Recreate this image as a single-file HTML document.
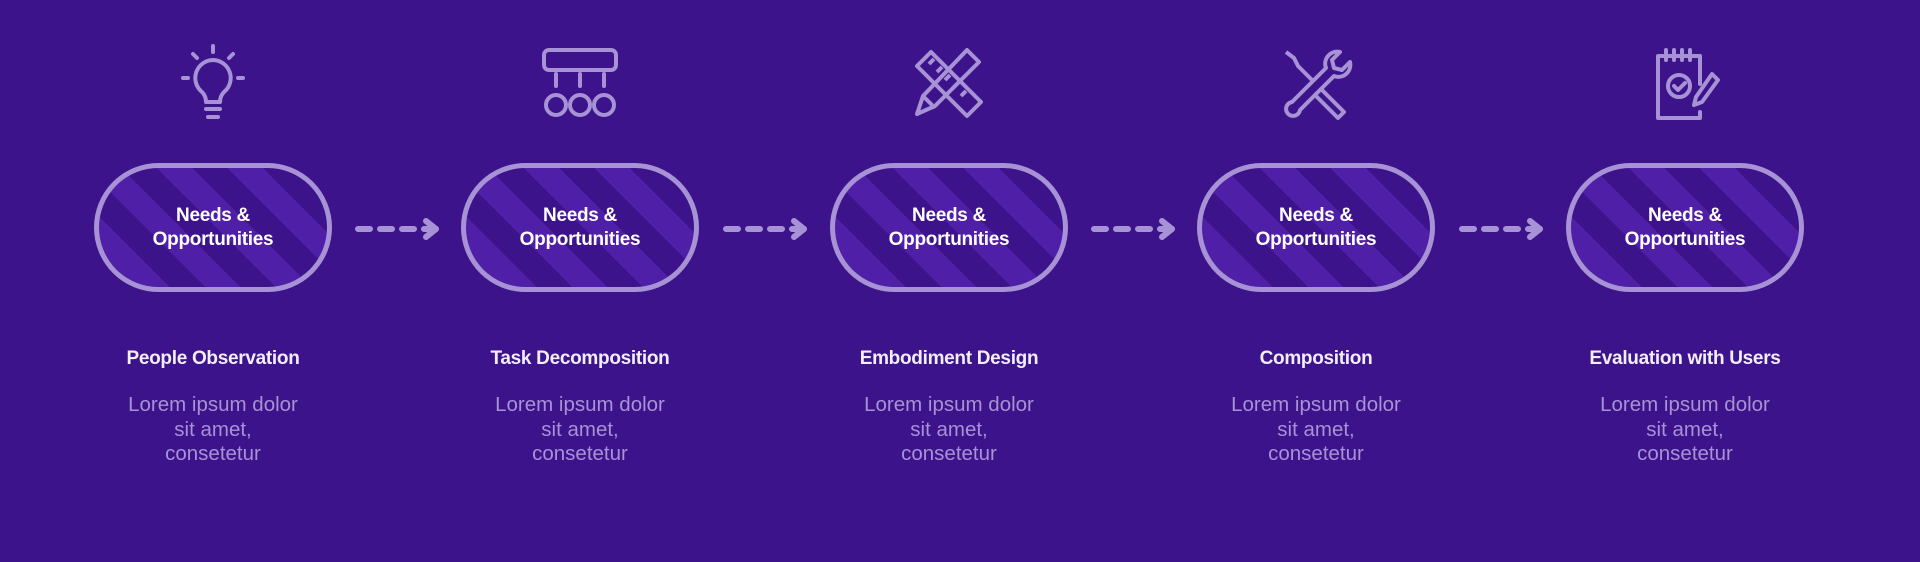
<!DOCTYPE html>
<html><head><meta charset="utf-8"><style>
body{margin:0;width:1920px;height:562px;background:#3c138a;font-family:"Liberation Sans",Arial,sans-serif;position:relative;overflow:hidden}
.pill{position:absolute;top:163px;width:238px;height:129px;box-sizing:border-box;border:5px solid #a892d6;border-radius:65px;
background:repeating-linear-gradient(45deg,#3c138a 0 25px,#4f20a7 25px 50px);display:flex;align-items:center;justify-content:center;text-align:center;color:#fff;font-weight:bold;font-size:19px;line-height:24px;letter-spacing:-0.3px}
.t{position:absolute;top:348px;width:300px;text-align:center;color:#f3eefc;font-weight:bold;font-size:19px;letter-spacing:-0.3px}
.d{position:absolute;top:393px;width:300px;text-align:center;color:#a892d6;font-size:20.5px;line-height:24.5px}
.arr{position:absolute;top:218px}
.ic{position:absolute;top:44px}
</style></head><body>

<svg class="ic" style="left:173px" width="80" height="82" viewBox="0 0 80 82" fill="none" stroke="#a892d6" stroke-width="4" stroke-linecap="round" stroke-linejoin="round">
<path d="M40 2v6M20 10l4 4M60 10l-4 4M10 34h5M65 34h5"/>
<path d="M40 16a18 18 0 0 0-11 32c3 3 4 6 4 10h14c0-4 1-7 4-10a18 18 0 0 0-11-32z"/>
<path d="M33 65h14M35 73h10"/></svg>
<div class="pill" style="left:94px">Needs &amp;<br>Opportunities</div>
<div class="t" style="left:63px">People Observation</div>
<div class="d" style="left:63px">Lorem ipsum dolor<br>sit amet,<br>consetetur</div>

<svg class="ic" style="left:540px" width="80" height="82" viewBox="0 0 80 82" fill="none" stroke="#a892d6" stroke-width="4" stroke-linecap="round">
<rect x="4" y="6" width="72" height="20" rx="5"/>
<path d="M16 30v12M40 30v12M64 30v12"/>
<circle cx="16" cy="61" r="10"/><circle cx="40" cy="61" r="10"/><circle cx="64" cy="61" r="10"/></svg>
<div class="pill" style="left:461px">Needs &amp;<br>Opportunities</div>
<div class="t" style="left:430px">Task Decomposition</div>
<div class="d" style="left:430px">Lorem ipsum dolor<br>sit amet,<br>consetetur</div>

<svg class="ic" style="left:909px" width="80" height="82" viewBox="0 0 80 82" fill="none" stroke="#a892d6" stroke-width="4" stroke-linejoin="round">
<path d="M8 22l14-14 50 50-14 14z"/><path d="M20 20l5-5M28 28l5-5M36 36l5-5M44 44l5-5M52 52l5-5"/>
<path d="M58 6l12 12-44 44-18 8 6-18z"/><path d="M14 52l12 12"/></svg>
<div class="pill" style="left:830px">Needs &amp;<br>Opportunities</div>
<div class="t" style="left:799px">Embodiment Design</div>
<div class="d" style="left:799px">Lorem ipsum dolor<br>sit amet,<br>consetetur</div>

<svg class="ic" style="left:1278px" width="80" height="82" viewBox="0 0 80 82" fill="none" stroke="#a892d6" stroke-width="4" stroke-linejoin="round">
<path d="M8 8l8 6 4 8 16 16"/><path d="M44 46l22 22-6 6-22-22"/>
<path d="M62 8a12 12 0 0 0-14 16L14 58a7 7 0 1 0 8 8l34-34a12 12 0 0 0 16-14l-8 8-8-2-2-8z"/></svg>
<div class="pill" style="left:1197px">Needs &amp;<br>Opportunities</div>
<div class="t" style="left:1166px">Composition</div>
<div class="d" style="left:1166px">Lorem ipsum dolor<br>sit amet,<br>consetetur</div>

<svg class="ic" style="left:1648px" width="80" height="82" viewBox="0 0 80 82" fill="none" stroke="#a892d6" stroke-width="4" stroke-linejoin="round" stroke-linecap="round">
<path d="M52 40V12H10v62h42v-6"/><path d="M18 6v10M26 6v10M34 6v10M42 6v10"/>
<circle cx="31" cy="42" r="11"/><path d="M26 42l4 4 7-7"/>
<path d="M64 30l6 6-16 22-8 3 2-8z"/></svg>
<div class="pill" style="left:1566px">Needs &amp;<br>Opportunities</div>
<div class="t" style="left:1535px">Evaluation with Users</div>
<div class="d" style="left:1535px">Lorem ipsum dolor<br>sit amet,<br>consetetur</div>

<svg class="arr" style="left:354px" width="90" height="22" viewBox="0 0 90 22" fill="none" stroke="#a892d6" stroke-width="6" stroke-linecap="round" stroke-linejoin="round">
<path d="M4 11h12M26 11h12M48 11h12M70 11h12"/><path d="M72 3l10 8-10 8"/></svg>
<svg class="arr" style="left:722px" width="90" height="22" viewBox="0 0 90 22" fill="none" stroke="#a892d6" stroke-width="6" stroke-linecap="round" stroke-linejoin="round">
<path d="M4 11h12M26 11h12M48 11h12M70 11h12"/><path d="M72 3l10 8-10 8"/></svg>
<svg class="arr" style="left:1090px" width="90" height="22" viewBox="0 0 90 22" fill="none" stroke="#a892d6" stroke-width="6" stroke-linecap="round" stroke-linejoin="round">
<path d="M4 11h12M26 11h12M48 11h12M70 11h12"/><path d="M72 3l10 8-10 8"/></svg>
<svg class="arr" style="left:1458px" width="90" height="22" viewBox="0 0 90 22" fill="none" stroke="#a892d6" stroke-width="6" stroke-linecap="round" stroke-linejoin="round">
<path d="M4 11h12M26 11h12M48 11h12M70 11h12"/><path d="M72 3l10 8-10 8"/></svg>
</body></html>
